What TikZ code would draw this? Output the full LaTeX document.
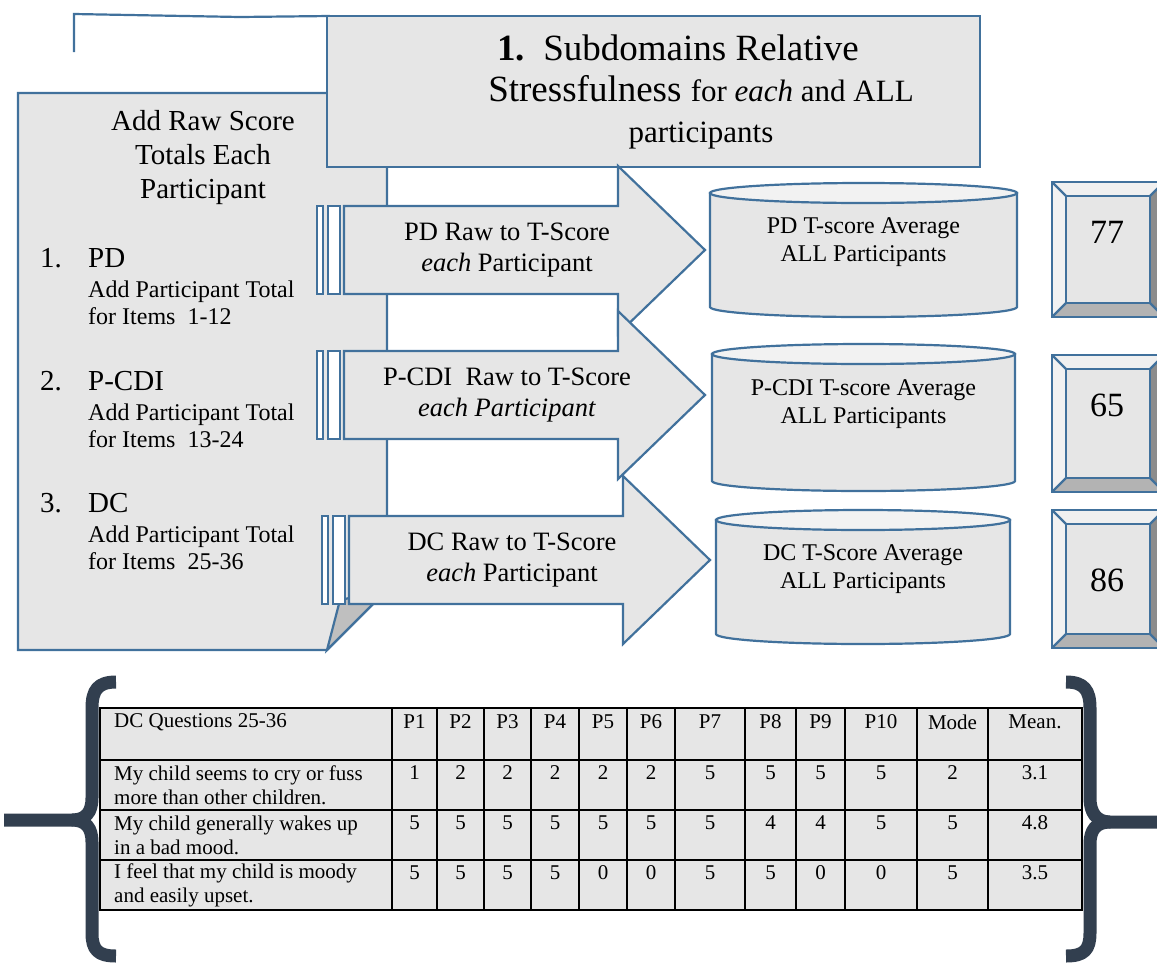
\documentclass[tikz,border=0pt]{standalone}
\usepackage{fontspec}
\setmainfont{Liberation Serif}

\definecolor{shapeblue}{HTML}{41719C}
\definecolor{shapefill}{HTML}{E6E6E6}
\definecolor{lidfill}{HTML}{F2F2F2}
\definecolor{foldfill}{HTML}{BFBFBF}
\definecolor{bracefill}{HTML}{323F4F}
\definecolor{bevellight}{HTML}{F2F2F2}
\definecolor{bevelshade}{HTML}{B3B3B3}
\definecolor{beveldark}{HTML}{8C8C8C}

\tikzset{
  blueline/.style={draw=shapeblue, line width=2.2pt, line join=miter},
  pagebox/.style={blueline, fill=shapefill},
  titlebox/.style={blueline, fill=shapefill},
  rawarrow/.style={blueline, fill=shapefill},
  tailbar/.style={blueline, line width=1.8pt, fill=white},
  avgcyl/.style={blueline, fill=shapefill},
  avglid/.style={blueline, fill=lidfill},
  tablegrid/.style={draw=black, line width=1.6pt},
  curly/.style={draw=bracefill, line width=13pt, line cap=butt, line join=round},
  plaintext/.style={inner sep=0pt, text=black},
  titletext/.style={plaintext, align=center, font=\fontsize{37}{41}\selectfont},
  pagetitle/.style={plaintext, align=center, font=\fontsize{29}{34}\selectfont},
  listtext/.style={plaintext, font=\fontsize{29}{34}\selectfont},
  subtext/.style={plaintext, align=left, font=\fontsize{24}{27}\selectfont},
  arrowtext/.style={plaintext, align=center, font=\fontsize{26.5}{31}\selectfont},
  cyltext/.style={plaintext, align=center, font=\fontsize{24}{28}\selectfont},
  scoretext/.style={plaintext, font=\fontsize{34}{40}\selectfont},
  celltext/.style={plaintext, font=\fontsize{21}{24.5}\selectfont},
  rowtext/.style={plaintext, align=left, font=\fontsize{21}{24.5}\selectfont}
}

\begin{document}
\begin{tikzpicture}[x=1pt, y=1pt]
  \useasboundingbox (0,0) rectangle (1157,-962);
  \clip (0,0) rectangle (1157,-962);

  % bracket running into the title
  \draw[blueline] (74,-52) -- (74,-14) -- (240,-17) -- (330,-16);

  % page with the raw score totals
  \filldraw[pagebox] (18,-93) -- (387,-93) -- (387,-590) -- (327,-650) -- (18,-650) -- cycle;
  \filldraw[blueline, fill=foldfill] (327,-650) -- (340,-600) -- (387,-590) -- cycle;
  \node[pagetitle] (rawtitle) at (203,-158) {Add Raw Score\\Totals Each\\Participant};
  \foreach \n/\hd/\items/\yy in {1/PD/1-12/258, 2/P-CDI/13-24/381, 3/DC/25-36/503} {
    \node[listtext, anchor=west] (num\n) at (40,-\yy) {\n.};
    \node[listtext, anchor=west] (item\n) at (88,-\yy) {\hd};
    \node[subtext, anchor=west] (total\n) at (88,-\yy-44.5) {Add Participant Total\\for Items\ \ \items};
  }

  % title
  \filldraw[titlebox] (327,-16) rectangle (980,-167);
  \node[titletext] (title) at (701,-92) {{\bfseries 1.}\ \ Subdomains Relative\hspace*{46pt}\\
    Stressfulness {\fontsize{31}{41}\selectfont for \textit{each} and ALL}\\
    {\fontsize{31}{41}\selectfont participants}};

  % raw to T-score arrows
  \foreach \xs/\xh/\xt/\cy/\lbl [count=\i] in {
      344/618/705/250/{PD Raw to T-Score\\\textit{each} Participant},
      344/618/705/395/{P-CDI\ \ Raw to T-Score\\\textit{each Participant}},
      349/623/710/560/{DC Raw to T-Score\\\textit{each} Participant}} {
    \filldraw[rawarrow] (\xs,-\cy+44) -- (\xh,-\cy+44) -- (\xh,-\cy+84) -- (\xt,-\cy)
      -- (\xh,-\cy-84) -- (\xh,-\cy-44) -- (\xs,-\cy-44) -- cycle;
    \filldraw[tailbar] (\xs-27,-\cy+44) rectangle (\xs-21,-\cy-44);
    \filldraw[tailbar] (\xs-16,-\cy+44) rectangle (\xs-4,-\cy-44);
    \node[arrowtext] (conv\i) at (\xs+163,-\cy) {\lbl};
  }

  % averages
  \foreach \xc/\rx/\yt/\yb/\ty/\lbl [count=\i] in {
      863.5/153.5/193/307/242/{PD T-score Average\\ALL Participants},
      863.5/151.5/354/481/404/{P-CDI T-score Average\\ALL Participants},
      863/147/520/634/569/{DC T-Score Average\\ALL Participants}} {
    \filldraw[avgcyl] (\xc-\rx,-\yt) -- (\xc-\rx,-\yb)
      arc[start angle=180, end angle=360, x radius=\rx pt, y radius=10pt] -- (\xc+\rx,-\yt) -- cycle;
    \filldraw[avglid] (\xc,-\yt) ellipse[x radius=\rx pt, y radius=10pt];
    \node[cyltext] (avg\i) at (\xc,-\ty) {\lbl};
  }

  % scores
  \foreach \ya/\yb/\val/\ty [count=\i] in {182/317/77/232, 355/492/65/405, 510/648/86/580} {
    \fill[bevellight] (1052,-\ya) -- (1066,-\ya-14) -- (1066,-\yb+14) -- (1052,-\yb) -- cycle;
    \fill[shapefill!60!white] (1052,-\ya) -- (1164,-\ya) -- (1150,-\ya-14) -- (1066,-\ya-14) -- cycle;
    \fill[beveldark] (1164,-\ya) -- (1164,-\yb) -- (1150,-\yb+14) -- (1150,-\ya-14) -- cycle;
    \fill[bevelshade] (1052,-\yb) -- (1164,-\yb) -- (1150,-\yb+14) -- (1066,-\yb+14) -- cycle;
    \filldraw[blueline, fill=shapefill] (1066,-\ya-14) rectangle (1150,-\yb+14);
    \draw[blueline] (1052,-\ya) rectangle (1164,-\yb);
    \draw[blueline] (1052,-\ya) -- (1066,-\ya-14) (1052,-\yb) -- (1066,-\yb+14)
      (1164,-\ya) -- (1150,-\ya-14) (1164,-\yb) -- (1150,-\yb+14);
    \node[scoretext] (score\i) at (1107,-\ty) {\val};
  }

  % DC table
  \fill[shapefill] (100,-708) rectangle (1082,-910);
  \foreach \x in {392,437,484,531,579,627,675,745,796,845,917,988}
    \draw[tablegrid] (\x,-708) -- (\x,-910);
  \foreach \y in {760,810,860}
    \draw[tablegrid] (100,-\y) -- (1082,-\y);
  \draw[tablegrid] (100,-708) rectangle (1082,-910);
  \node[rowtext, anchor=west] (qhead) at (114,-722) {DC Questions 25-36};
  \node[rowtext, anchor=west] (q1) at (114,-785) {My child seems to cry or fuss\\more than other children.};
  \node[rowtext, anchor=west] (q2) at (114,-835.5) {My child generally wakes up\\in a bad mood.};
  \node[rowtext, anchor=west] (q3) at (114,-885.5) {I feel that my child is moody\\and easily upset.};
  \foreach \cx/\hd/\ra/\rb/\rc [count=\k] in {414.5/P1/1/5/5, 460.5/P2/2/5/5, 507.5/P3/2/5/5,
      555/P4/2/5/5, 603/P5/2/5/0, 651/P6/2/5/0, 710/P7/5/5/5, 770.5/P8/5/4/5, 820.5/P9/5/4/0,
      881/P10/5/5/0, 952.5/Mode/2/5/5, 1035/Mean./3.1/4.8/3.5} {
    \node[celltext] (col\k) at (\cx,-722) {\hd};
    \node[celltext] (a\k) at (\cx,-773) {\ra};
    \node[celltext] (b\k) at (\cx,-823) {\rb};
    \node[celltext] (c\k) at (\cx,-873) {\rc};
  }

  % braces round the table
  \draw[curly] (116,-682) .. controls (98,-682) and (92,-690) .. (92,-708) -- (92,-798)
    .. controls (92,-812) and (86,-820) .. (72,-820) -- (4,-820);
  \draw[curly] (72,-820) .. controls (86,-820) and (92,-828) .. (92,-842) -- (92,-933)
    .. controls (92,-950) and (98,-956) .. (116,-956);
  \draw[curly] (1066,-682) .. controls (1084,-682) and (1090,-690) .. (1090,-708) -- (1090,-798)
    .. controls (1090,-812) and (1096,-822) .. (1110,-822) -- (1160,-822);
  \draw[curly] (1110,-822) .. controls (1096,-822) and (1090,-830) .. (1090,-844) -- (1090,-933)
    .. controls (1090,-950) and (1084,-956) .. (1066,-956);
\end{tikzpicture}
\end{document}
